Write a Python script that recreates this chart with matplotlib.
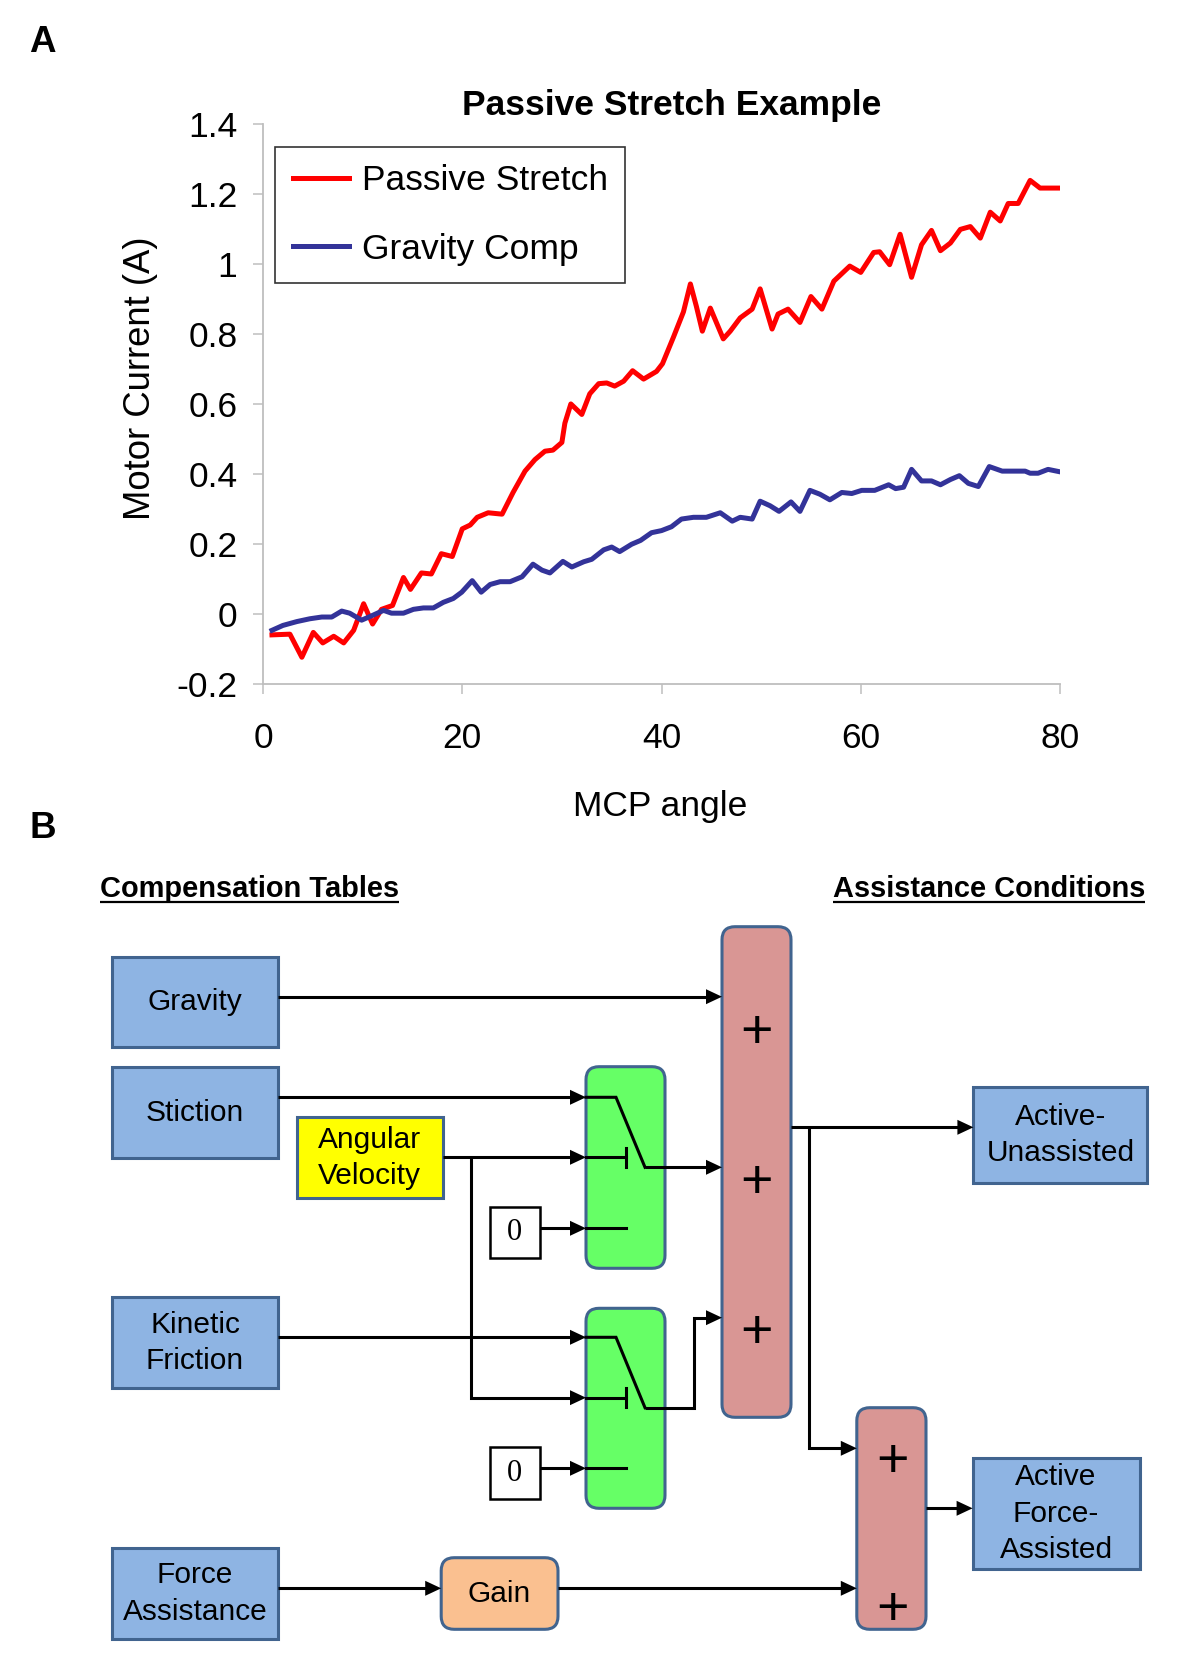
import matplotlib
matplotlib.use('Agg')
import matplotlib.pyplot as plt
from matplotlib.patches import Rectangle, FancyBboxPatch, Polygon

plt.rcParams['font.family'] = ['Liberation Sans', 'DejaVu Sans']

# ---- panel A data ----
passive_angle = [0.9, 2.7, 3.9, 5.05, 6.0, 7.1, 8.1, 9.1, 10.1, 11.0, 11.9, 13.0, 14.1, 14.8,
                 15.9, 16.9, 17.9, 19.0, 20.0, 20.8, 21.5, 22.6, 24.0, 25.1, 26.3, 27.3, 28.3,
                 29.1, 30.0, 30.3, 30.9, 32.0, 32.8, 33.7, 34.5, 35.3, 36.2, 37.1, 38.2, 39.5,
                 40.1, 41.2, 42.2, 42.9, 43.5, 44.1, 44.9, 46.2, 46.9, 47.9, 49.1, 49.9, 51.1,
                 51.7, 52.7, 53.9, 55.0, 56.1, 57.3, 58.9, 60.0, 61.3, 61.9, 62.9, 63.95, 65.1,
                 66.1, 67.1, 68.0, 69.0, 70.0, 71.0, 72.0, 73.0, 74.0, 74.8, 75.8, 77.0, 78.0, 80.0]
passive_current = [-0.061, -0.059, -0.125, -0.054, -0.084, -0.065, -0.084, -0.048, 0.028, -0.03,
                   0.012, 0.023, 0.103, 0.069, 0.116, 0.113, 0.171, 0.163, 0.242, 0.253, 0.275,
                   0.288, 0.284, 0.346, 0.407, 0.44, 0.464, 0.467, 0.489, 0.544, 0.599, 0.569,
                   0.628, 0.657, 0.659, 0.650, 0.664, 0.694, 0.67, 0.692, 0.714, 0.79, 0.862,
                   0.942, 0.878, 0.807, 0.873, 0.785, 0.807, 0.845, 0.870, 0.928, 0.813, 0.856,
                   0.870, 0.832, 0.906, 0.870, 0.950, 0.993, 0.975, 1.032, 1.034, 0.997, 1.084,
                   0.961, 1.054, 1.095, 1.037, 1.059, 1.098, 1.106, 1.073, 1.147, 1.122, 1.172,
                   1.172, 1.238, 1.216, 1.216]

gravity_angle = [0.9, 2.0, 3.4, 4.7, 5.9, 6.9, 7.9, 8.7, 9.9, 11.1, 12.1, 12.9, 14.1, 15.1, 16.1,
                 17.1, 18.1, 19.1, 19.95, 21.0, 21.9, 22.8, 23.8, 24.8, 26.0, 27.1, 28.0, 28.8,
                 30.1, 31.0, 32.2, 33.0, 34.2, 35.0, 35.8, 37.0, 37.9, 39.0, 40.0, 41.0, 42.0,
                 43.2, 44.5, 45.9, 47.1, 47.9, 49.1, 49.9, 50.9, 51.8, 53.0, 53.9, 54.9, 55.9,
                 56.9, 58.1, 59.1, 60.1, 61.4, 62.8, 63.5, 64.3, 65.1, 66.1, 67.1, 68.0, 69.0,
                 69.9, 70.8, 71.8, 72.9, 74.2, 76.5, 77.0, 77.8, 78.8, 80.0]
gravity_current = [-0.048, -0.034, -0.023, -0.015, -0.01, -0.01, 0.007, 0.001, -0.019, -0.004,
                   0.009, 0.001, 0.001, 0.012, 0.016, 0.016, 0.032, 0.043, 0.061, 0.094, 0.061,
                   0.083, 0.091, 0.091, 0.105, 0.141, 0.124, 0.116, 0.149, 0.133, 0.148, 0.155,
                   0.182, 0.19, 0.177, 0.198, 0.209, 0.231, 0.237, 0.248, 0.27, 0.275, 0.275,
                   0.288, 0.264, 0.275, 0.27, 0.321, 0.308, 0.292, 0.319, 0.292, 0.352, 0.341,
                   0.325, 0.346, 0.343, 0.352, 0.352, 0.368, 0.357, 0.361, 0.412, 0.379, 0.379,
                   0.368, 0.383, 0.394, 0.372, 0.363, 0.42, 0.407, 0.407, 0.401, 0.401, 0.412, 0.405]

x_ticks = [0, 20, 40, 60, 80]
y_ticks = [-0.2, 0, 0.2, 0.4, 0.6, 0.8, 1.0, 1.2, 1.4]
y_tick_labels = ['-0.2', '0', '0.2', '0.4', '0.6', '0.8', '1', '1.2', '1.4']

W, H = 1200, 1680
fig = plt.figure(figsize=(12, 16.8), dpi=100)


def fx(px):
    return px / W


def fy(py):
    return 1 - py / H


# ---- panel A ----
ax = fig.add_axes([fx(263), fy(683.5), (1060 - 263) / W, (683.5 - 123.7) / H])
ax.plot(passive_angle, passive_current, color='#FF0000', lw=3.6, label='Passive Stretch')
ax.plot(gravity_angle, gravity_current, color='#333399', lw=3.6, label='Gravity Comp')
ax.set_xlim(0, 80)
ax.set_ylim(-0.2, 1.4)
ax.set_xticks(x_ticks)
ax.set_yticks(y_ticks)
ax.set_yticklabels(y_tick_labels)
for s in ['top', 'right']:
    ax.spines[s].set_visible(False)
for s in ['left', 'bottom']:
    ax.spines[s].set_color('#BEBEBE')
    ax.spines[s].set_linewidth(1.3)
ax.tick_params(axis='both', direction='out', length=7.5, width=1.1, color='#BEBEBE',
               labelsize=25.5, labelcolor='black')
ax.tick_params(axis='y', pad=11)
ax.tick_params(axis='x', pad=20)
leg = ax.legend(loc='upper left', bbox_to_anchor=(0.015, 0.959), borderaxespad=0,
                fontsize=25.5, frameon=True, fancybox=False, handlelength=1.6,
                handletextpad=0.35, labelspacing=1.0, borderpad=0.5)
leg.get_frame().set_edgecolor('black')
leg.get_frame().set_linewidth(1.2)

fig.text(fx(672), fy(115), 'Passive Stretch Example', ha='center', va='baseline',
         fontsize=25.5, fontweight='bold')
fig.text(fx(660.5), fy(806), 'MCP angle', ha='center', va='center', fontsize=25.5)
fig.text(fx(140), fy(378), 'Motor Current (A)', ha='center', va='center', rotation=90,
         fontsize=26.3)
fig.text(fx(29), fy(52), 'A', ha='left', va='baseline', fontsize=26.5, fontweight='bold')
fig.text(fx(29), fy(838), 'B', ha='left', va='baseline', fontsize=26.5, fontweight='bold')

# ---- panel B: block diagram in pixel coordinates ----
dax = fig.add_axes([0, 0, 1, 0.5])
dax.set_xlim(0, W)
dax.set_ylim(H, 840)
dax.axis('off')

EDGE = '#41648F'
BLUE = '#8EB4E3'


def block(x0, y0, x1, y1, fc, label=None, rounded=False, ec=EDGE, lw=2.2, fs=21.5,
          family=None):
    if rounded:
        p = FancyBboxPatch((x0, y0), x1 - x0, y1 - y0,
                           boxstyle='round,pad=0,rounding_size=13', fc=fc, ec=ec, lw=lw)
    else:
        p = Rectangle((x0, y0), x1 - x0, y1 - y0, fc=fc, ec=ec, lw=lw)
    dax.add_patch(p)
    if label:
        kw = {}
        if family:
            kw['family'] = family
        dax.text((x0 + x1) / 2, (y0 + y1) / 2, label, ha='center', va='center',
                 fontsize=fs, linespacing=1.38, **kw)


def wire(xs, ys, head=True):
    xs = list(xs)
    ys = list(ys)
    if head:
        tip = xs[-1]
        xs[-1] = tip - 10
    dax.plot(xs, ys, color='black', lw=2.2, solid_capstyle='butt', solid_joinstyle='miter',
             zorder=3)
    if head:
        y1 = ys[-1]
        dax.add_patch(Polygon([(tip, y1), (tip - 16, y1 - 7.5), (tip - 16, y1 + 7.5)],
                              closed=True, fc='black', ec='none', zorder=4))


def plus(x, y):
    dax.text(x, y, '+', ha='center', va='center_baseline', fontsize=40, zorder=5)


# headers
for txt, x0 in [('Compensation Tables', 100), ('Assistance Conditions', 833)]:
    dax.text(x0, 897.3, txt, ha='left', va='baseline', fontsize=20.9, fontweight='bold')
fig.canvas.draw()
rend = fig.canvas.get_renderer()
for t in dax.texts:
    bb = t.get_window_extent(rend).transformed(dax.transData.inverted())
    dax.plot([bb.x0, bb.x1], [901.7, 901.7], color='black', lw=1.6, solid_capstyle='butt')

# wires
wire([278, 722], [996.7, 996.7])                        # gravity -> sum
wire([278, 586], [1097.3, 1097.3])                      # stiction -> switch 1
wire([443, 586], [1157.3, 1157.3])                      # angular velocity -> switch 1
wire([470.7, 470.7, 586], [1157.3, 1397.7, 1397.7])     # angular velocity -> switch 2
wire([539.5, 586], [1228.3, 1228.3])                    # zero -> switch 1
wire([278, 586], [1337.3, 1337.3])                      # kinetic friction -> switch 2
wire([539.5, 586], [1468.3, 1468.3])                    # zero -> switch 2
wire([791, 973.4], [1127.3, 1127.3])                    # sum -> active-unassisted
wire([809.3, 809.3, 856.8], [1127.3, 1448.3, 1448.3])   # branch -> second sum
wire([278, 441.2], [1588.3, 1588.3])                    # force -> gain
wire([558, 856.8], [1588.3, 1588.3])                    # gain -> second sum
wire([926, 972.6], [1508.3, 1508.3])                    # second sum -> assisted

# blocks
block(112, 956.7, 278, 1047.3, BLUE, 'Gravity')
block(112, 1067.3, 278, 1158.3, BLUE, 'Stiction')
block(112, 1297.3, 278, 1388.3, BLUE, 'Kinetic\nFriction')
block(112, 1548.3, 278, 1639, BLUE, 'Force\nAssistance')
block(296.6, 1117.3, 442.7, 1198.3, '#FFFF00', 'Angular\nVelocity')
block(489.8, 1207.3, 539.5, 1258.3, 'white', '0', ec='black', lw=1.8, fs=22,
      family=['Liberation Serif', 'DejaVu Serif'])
block(489.8, 1447.3, 539.5, 1499, 'white', '0', ec='black', lw=1.8, fs=22,
      family=['Liberation Serif', 'DejaVu Serif'])
block(586, 1066.7, 665, 1268.3, '#66FF66', rounded=True)
block(586, 1308.3, 665, 1508.3, '#66FF66', rounded=True)
block(722, 926.7, 791, 1417.3, '#D99694', rounded=True)
block(856.8, 1407.7, 926, 1629.3, '#D99694', rounded=True)
block(441.2, 1557.7, 558, 1629.3, '#FAC090', 'Gain', rounded=True)
block(973.4, 1087.3, 1147.4, 1183.3, BLUE, 'Active-\nUnassisted')
block(972.6, 1457.7, 1139.5, 1569.3, BLUE, 'Active\nForce-\nAssisted')

# switches inside the green blocks
for top_y, mid_y, low_y, out_pts in [
        (1097.3, 1157.3, 1228.3, ([645, 722], [1167.3, 1167.3])),
        (1337.3, 1397.7, 1468.3, ([645, 693.5, 693.5, 722], [1407.7, 1407.7, 1317.7, 1317.7]))]:
    dax.plot([586, 616, 645], [top_y, top_y, mid_y + 10], color='black', lw=2.2, zorder=3,
             solid_joinstyle='miter')
    dax.plot([586, 626], [mid_y, mid_y], color='black', lw=2.2, zorder=3)
    dax.plot([626, 626], [mid_y - 9.5, mid_y + 9.5], color='black', lw=2.2, zorder=3)
    dax.plot([586, 626], [low_y, low_y], color='black', lw=2.2, zorder=3)
    wire(*out_pts)

# sums
plus(756.7, 1028.3)
plus(756.7, 1178.3)
plus(756.7, 1328.3)
plus(892.4, 1456.7)
plus(892.4, 1605)

fig.savefig('out.png', dpi=100)
